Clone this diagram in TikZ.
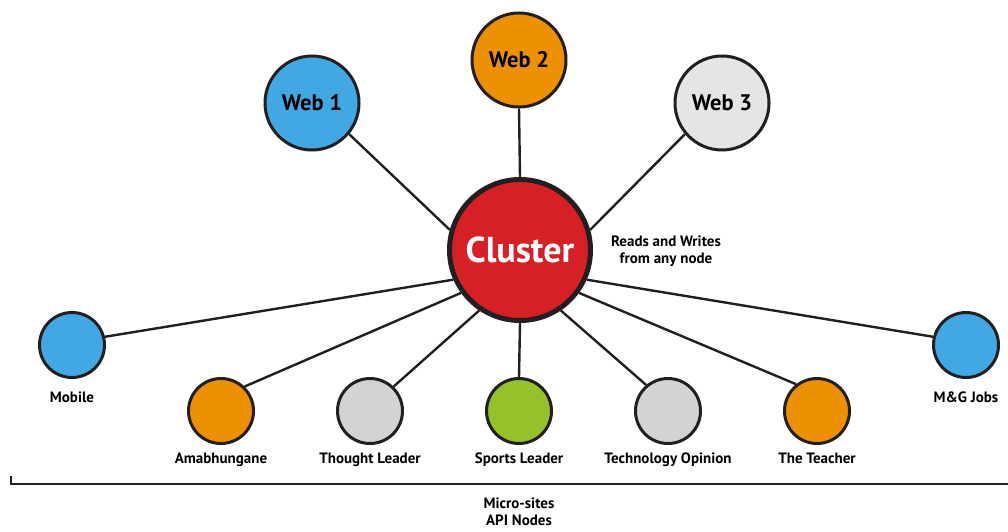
\documentclass[tikz,border=0pt]{standalone}
\usepackage{fontspec}
\setmainfont{PT Sans}
\usepackage{tikz}
\usetikzlibrary{positioning}

\definecolor{ink}{HTML}{231F20}
\definecolor{webblue}{HTML}{42A8E3}
\definecolor{weborange}{HTML}{EE9100}
\definecolor{sitegray}{HTML}{D1D3D4}
\definecolor{webgray}{HTML}{E3E5E6}
\definecolor{sitegreen}{HTML}{95C12B}
\definecolor{clusterred}{HTML}{D71F26}

\begin{document}
\begin{tikzpicture}[x=1pt,y=-1pt,
		link/.style={draw=ink,line width=2.4pt},
		hub/.style={circle,draw=ink,line width=5pt,fill=clusterred,minimum size=141pt,inner sep=0pt,
			text=white,font=\fontsize{36}{40}\selectfont\bfseries},
		web/.style={circle,draw=ink,line width=3pt,minimum size=94pt,inner sep=0pt,
			font=\fontsize{22.5}{26}\selectfont\bfseries},
		site/.style={circle,draw=ink,line width=3pt,minimum size=65pt,inner sep=0pt},
		sitelabel/.style={font=\fontsize{15}{17}\selectfont\bfseries,inner sep=0pt,
			text height=11pt,text depth=3.5pt},
		note/.style={font=\fontsize{15}{17}\selectfont\bfseries,align=center,inner sep=0pt}]
	\useasboundingbox (0,0) rectangle (1008,532);

	% the cluster and the web heads
	\node[hub] (cl) at (520,250) {Cluster};
	\node[web,fill=webblue] (w1) at (312,103) {Web 1};
	\node[web,fill=weborange] (w2) at (519,60) {Web 2};
	\node[web,fill=webgray] (w3) at (722,103) {Web 3};
	\node[note] (rw) at (666,251) {Reads and Writes\\from any node};

	% micro-sites
	\node[site,fill=webblue] (mob) at (72,345) {};
	\node[site,fill=weborange] (ama) at (221,411) {};
	\node[site,fill=sitegray] (tl) at (370,411) {};
	\node[site,fill=sitegreen] (sl) at (519,411) {};
	\node[site,fill=sitegray] (to) at (668,411) {};
	\node[site,fill=weborange] (tt) at (817,411) {};
	\node[site,fill=webblue] (mg) at (966,345) {};

	\node[sitelabel] (mobl) at (72,399) {Mobile};
	\node[sitelabel] (amal) at (221,460) {Amabhungane};
	\node[sitelabel] (tll) at (370,460) {Thought Leader};
	\node[sitelabel] (sll) at (519,460) {Sports Leader};
	\node[sitelabel] (tol) at (668,460) {Technology Opinion};
	\node[sitelabel] (ttl) at (817,460) {The Teacher};
	\node[sitelabel] (mgl) at (966,399) {M\&G Jobs};

	% links
	\path (w1.-40) edge[link] (cl.164);
	\path (w2.-90) edge[link] (cl.90);
	\path (w3.220) edge[link] (cl.16);
	\path (mob.14) edge[link] (cl.204);
	\path (ama.46) edge[link] (cl.216);
	\path (tl.46) edge[link] (cl.236);
	\path (sl.90) edge[link] (cl.-90);
	\path (to.130) edge[link] (cl.-56);
	\path (tt.128) edge[link] (cl.-36);
	\path (mg.166) edge[link] (cl.-24);

	% bracket
	\coordinate (bt) at (11,476);
	\coordinate (bl) at (11,484);
	\coordinate (br) at (1008,484);
	\draw[ink,line width=1.6pt] (bt) -- (bl) -- (br);
	\node[note] (api) at (519,512) {Micro-sites\\API Nodes};
\end{tikzpicture}
\end{document}
